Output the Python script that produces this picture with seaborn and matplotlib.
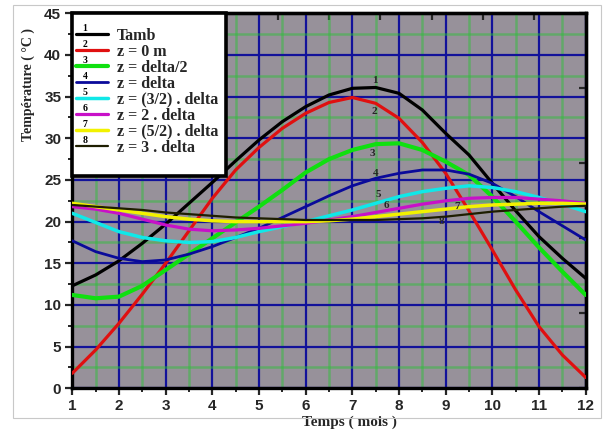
import numpy as np
import pandas as pd
import matplotlib
matplotlib.use("Agg")
import matplotlib.pyplot as plt
import seaborn as sns
from matplotlib.legend_handler import HandlerLine2D
from matplotlib.text import Text
from matplotlib.patches import Rectangle

# ---------------- data ----------------
months = [1, 1.5, 2, 2.5, 3, 3.5, 4, 4.5, 5, 5.5, 6, 6.5, 7, 7.5, 8, 8.5,
          9, 9.5, 10, 10.5, 11, 11.5, 12]

t_amb = [12.3, 13.6, 15.3, 17.4, 19.7, 22.2, 24.7, 27.3, 29.8, 32.0, 33.8, 35.2,
         36.0, 36.1, 35.4, 33.4, 30.6, 28.0, 24.6, 21.3, 18.2, 15.6, 13.2]
z_0 = [1.8, 4.6, 7.8, 11.3, 15.0, 18.9, 22.8, 26.2, 28.9, 31.2, 33.0, 34.3,
       34.9, 34.2, 32.4, 29.5, 25.8, 21.3, 16.6, 11.8, 7.4, 4.0, 1.3]
z_half = [11.2, 10.8, 11.0, 12.3, 14.2, 16.1, 18.0, 19.9, 21.8, 23.8, 25.9, 27.5,
          28.6, 29.3, 29.4, 28.6, 27.2, 25.6, 23.0, 20.0, 16.9, 14.0, 11.2]
z_1 = [17.7, 16.4, 15.6, 15.2, 15.4, 16.1, 17.0, 18.1, 19.2, 20.5, 21.8, 23.1,
       24.3, 25.2, 25.8, 26.2, 26.2, 25.7, 24.6, 23.0, 21.2, 19.5, 17.8]
z_15 = [21.0, 19.9, 18.8, 18.1, 17.7, 17.5, 17.6, 18.1, 18.8, 19.4, 20.0, 20.7,
        21.4, 22.2, 23.0, 23.6, 24.0, 24.3, 24.1, 23.6, 22.9, 22.1, 21.2]
z_2 = [21.8, 21.5, 21.0, 20.3, 19.6, 19.1, 18.9, 19.0, 19.2, 19.5, 19.8, 20.2,
       20.6, 21.1, 21.6, 22.1, 22.5, 22.8, 22.9, 22.9, 22.7, 22.5, 22.2]
z_25 = [22.2, 21.8, 21.4, 21.0, 20.6, 20.3, 20.1, 20.0, 20.0, 20.0, 20.0, 20.1,
        20.3, 20.6, 20.9, 21.2, 21.5, 21.8, 22.0, 22.1, 22.2, 22.2, 22.1]
z_3 = [22.0, 21.8, 21.6, 21.4, 21.1, 20.9, 20.7, 20.5, 20.4, 20.3, 20.2, 20.2,
       20.2, 20.2, 20.3, 20.4, 20.6, 20.9, 21.2, 21.4, 21.6, 21.8, 21.9]

series_names = ["Tamb", "z = 0 m", "z = delta/2", "z = delta", "z = (3/2) . delta",
                "z = 2 . delta", "z = (5/2) . delta", "z = 3 . delta"]
series_values = [t_amb, z_0, z_half, z_1, z_15, z_2, z_25, z_3]
curve_numbers = ["1", "2", "3", "4", "5", "6", "7", "8"]

x_ticks = [1, 2, 3, 4, 5, 6, 7, 8, 9, 10, 11, 12]
y_ticks = [0, 5, 10, 15, 20, 25, 30, 35, 40, 45]

colors = ["#000000", "#e01010", "#10e010", "#0a0a9a", "#10e8e8",
          "#c810c8", "#f2f200", "#1e1e00"]
widths = [2.3, 2.3, 3.0, 2.0, 2.5, 2.3, 2.5, 1.6]

# ---------------- figure ----------------
sns.set_style("white")
plt.rcParams["font.family"] = ["Liberation Sans", "DejaVu Sans"]

fig = plt.figure(figsize=(6.04, 4.30), dpi=100)
ax = fig.add_axes([0.1197, 0.097, 0.850, 0.872])

df = pd.DataFrame({"Temps": months})
for name, vals in zip(series_names, series_values):
    df[name] = vals
long = df.melt(id_vars="Temps", var_name="serie", value_name="T")

for name, col, lw in zip(series_names, colors, widths):
    sub = long[long["serie"] == name]
    sns.lineplot(data=sub, x="Temps", y="T", ax=ax, color=col, linewidth=lw,
                 label=name, zorder=3)

ax.set_xlim(1, 12)
ax.set_ylim(0, 45)
ax.set_facecolor("#97919a")

ax.set_xticks(x_ticks)
ax.set_yticks(y_ticks)
ax.set_xticks(np.arange(1.5, 12, 1.0), minor=True)
ax.set_yticks(np.arange(2.5, 45, 5.0), minor=True)
ax.grid(which="major", color="#12129a", linewidth=1.6, zorder=1)
ax.grid(which="minor", color="#2fbf3a", linewidth=1.8, alpha=0.5, zorder=1)
ax.set_axisbelow(True)

ax.tick_params(which="major", direction="out", length=5, width=1.6,
               labelsize=11, pad=3, bottom=True, left=True)
ax.tick_params(which="minor", direction="out", length=3, width=1.4,
               bottom=True, left=True)
for lab in ax.get_xticklabels() + ax.get_yticklabels():
    lab.set_fontweight("bold")

for sp in ax.spines.values():
    sp.set_linewidth(2.4)
    sp.set_color("black")

# top and right tick marks (own spacing, no labels)
sec_x = ax.secondary_xaxis("top")
sec_x.set_xticks(np.linspace(1, 12, 11))
sec_x.tick_params(direction="in", length=5, width=1.6, labeltop=False)
sec_x.spines["top"].set_linewidth(2.4)
sec_y = ax.secondary_yaxis("right")
sec_y.set_yticks(np.linspace(0, 45, 6))
sec_y.tick_params(direction="in", length=5, width=1.6, labelright=False)
sec_y.spines["right"].set_linewidth(2.4)

ax.set_xlabel("Temps ( mois )", family="Liberation Serif", fontweight="bold",
              fontsize=11)
ax.set_ylabel("Température ( °C )", family="Liberation Serif",
              fontweight="bold", fontsize=10)
ax.xaxis.set_label_coords(0.54, -0.072)
ax.yaxis.set_label_coords(-0.072, 0.81)

# curve number labels
label_pos = [(7.49, 36.9), (7.47, 33.2), (7.42, 28.2), (7.51, 25.8),
             (7.55, 23.2), (7.72, 21.9), (9.24, 21.8), (8.9, 20.0)]
for num, (lx, ly) in zip(curve_numbers, label_pos):
    ax.text(lx, ly, num, family="Liberation Serif", fontweight="bold",
            fontsize=8, ha="center", va="center", zorder=4)

# legend box
ax.add_patch(Rectangle((0, 0.566), 0.30, 0.434, transform=ax.transAxes,
                       facecolor="white", edgecolor="black", linewidth=2.6,
                       zorder=4, clip_on=False))


class NumHandler(HandlerLine2D):
    def __init__(self, num, **kw):
        super().__init__(**kw)
        self.num = num

    def create_artists(self, legend, orig_handle, xdescent, ydescent, width,
                       height, fontsize, trans):
        arts = super().create_artists(legend, orig_handle, xdescent, ydescent,
                                      width, height, fontsize, trans)
        t = Text(-xdescent + width * 0.28, height / 2 - ydescent + 0.8,
                 self.num, fontsize=7, fontweight="bold",
                 family="Liberation Serif", ha="center", va="bottom",
                 color="black")
        t.set_transform(trans)
        return list(arts) + [t]


handles, labels = ax.get_legend_handles_labels()
hmap = {h: NumHandler(n) for h, n in zip(handles, curve_numbers)}
leg = ax.legend(handles, labels, handler_map=hmap, loc="upper left",
                bbox_to_anchor=(0.008, 0.962), frameon=False, borderpad=0,
                borderaxespad=0, handlelength=1.95, handletextpad=0.6,
                labelspacing=0.0,
                prop={"family": "Liberation Serif", "weight": "bold",
                      "size": 11.5})
leg.set_zorder(6)

# thin outer border of the picture
fig.add_artist(Rectangle((13 / 604, 12 / 430), 588 / 604, 413 / 430,
                         transform=fig.transFigure, fill=False,
                         edgecolor="#c8c8c8", linewidth=0.8))

fig.savefig("out.png", dpi=100)
